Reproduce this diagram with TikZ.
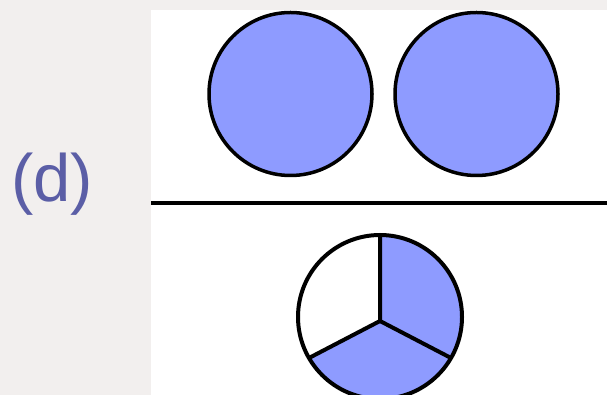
\documentclass[tikz,border=0pt]{standalone}
\usepackage{fontspec}
\setmainfont{Liberation Sans}
\usetikzlibrary{calc}
\definecolor{bgc}{HTML}{F2EFEE}
\definecolor{piefill}{HTML}{8E9BFF}
\definecolor{lbl}{HTML}{5B5EA6}
\tikzset{
  disc/.style={circle, draw=black, fill=piefill, line width=3.5pt, inner sep=0pt, minimum size=163pt},
  thickline/.style={line width=4pt, draw=black},
}
\begin{document}
\begin{tikzpicture}[x=1pt,y=1pt]
\useasboundingbox (0,0) rectangle (607,395);
\fill[bgc] (0,0) rectangle (607,395);
\fill[white] (151,0) rectangle (607,385);
\node[anchor=base, text=lbl, font=\fontsize{67}{67}\selectfont] (lab) at (52,193) {(d)};
\node[disc] (c1) at (290.5,301) {};
\node[disc] (c2) at (476.5,301) {};
\coordinate (l1) at (151,192);
\coordinate (l2) at (607,192);
\draw[thickline] (l1) -- (l2);
\coordinate (pc) at (380,78);
\coordinate (hub) at (380,74);
\coordinate (ptop) at (380,160);
\coordinate (pll) at ($(pc)+(210:82)$);
\coordinate (plr) at ($(pc)+(330:82)$);
\fill[piefill] (pc) circle (82);
\fill[white] (hub) -- (ptop) arc[start angle=90, end angle=210, radius=82] -- cycle;
\draw[thickline] (pc) circle (82);
\draw[thickline, line join=round] (ptop) -- (hub) -- (pll);
\draw[thickline] (hub) -- (plr);
\end{tikzpicture}
\end{document}
